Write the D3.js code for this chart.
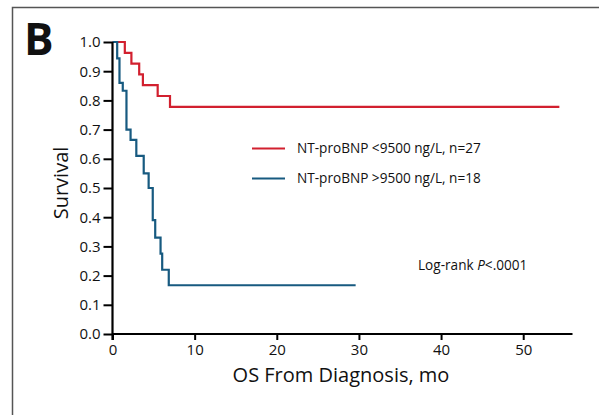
<html>
<head>
<script src="https://cdn.jsdelivr.net/npm/d3@7"></script>
<style>
  body { margin: 0; background: #fff; }
  text { font-family: "Open Sans", sans-serif; fill: #111; }
</style>
</head>
<body>
<svg></svg>
<script>
// KM curves: [months, survival]
var lowSteps = [[0, 1], [1.5, 0.963], [2.3, 0.926], [3.25, 0.889], [3.7, 0.852], [5.5, 0.815], [7.0, 0.778]];
var lowEnd = 54.4;
var highSteps = [[0, 1], [0.57, 0.944], [0.85, 0.86], [1.25, 0.833], [1.7, 0.70], [2.2, 0.665], [2.9, 0.61],
                 [3.8, 0.55], [4.4, 0.50], [4.9, 0.39], [5.2, 0.33], [5.85, 0.275], [6.05, 0.22], [6.85, 0.167]];
var highEnd = 29.6;

var seriesNames = ["NT-proBNP <9500 ng/L, n=27", "NT-proBNP >9500 ng/L, n=18"];
var seriesColors = ["#d2202f", "#175a80"];
var xTicks = [0, 10, 20, 30, 40, 50];
var yTicks = d3.range(0, 11).map(function(d){ return d / 10; });

var W = 599, H = 415;
var svg = d3.select("svg").attr("width", W).attr("height", H);

// frame (top + left only)
svg.append("path").attr("d", "M12.5," + H + "V7.5H" + W)
   .attr("fill", "none").attr("stroke", "#555").attr("stroke-width", 1.5);

svg.append("text").attr("x", 24).attr("y", 55)
   .style("font-size", "44px").style("font-weight", 700).text("B");

var x = d3.scaleLinear().domain([0, 56]).range([112.5, 572.5]);
var y = d3.scaleLinear().domain([0, 1]).range([334, 42]);

// survival curves
function stepLine(steps, end) {
  var pts = steps.concat([[end, steps[steps.length - 1][1]]]);
  return d3.line().x(function(d){ return x(d[0]); }).y(function(d){ return y(d[1]); })
           .curve(d3.curveStepAfter)(pts);
}
var curves = [[lowSteps, lowEnd], [highSteps, highEnd]];
svg.selectAll(".km").data(curves).enter().append("path").attr("class", "km")
   .attr("d", function(d){ return stepLine(d[0], d[1]); })
   .attr("fill", "none")
   .attr("stroke", function(d, i){ return seriesColors[i]; })
   .attr("stroke-width", 2.2);

// axes
var yAxis = svg.append("g").attr("transform", "translate(" + x(0) + ",0)")
  .call(d3.axisLeft(y).tickValues(yTicks).tickFormat(d3.format(".1f")).tickSize(9).tickPadding(3));
var xAxis = svg.append("g").attr("transform", "translate(0," + y(0) + ")")
  .call(d3.axisBottom(x).tickValues(xTicks).tickSize(6).tickPadding(4));
[xAxis, yAxis].forEach(function(g){
  g.select(".domain").attr("stroke", "#000").attr("stroke-width", 2.2);
  g.selectAll(".tick line").attr("stroke", "#000").attr("stroke-width", 2);
  g.selectAll(".tick text").style("font-size", "15px").style("font-family", "'Open Sans', sans-serif").attr("fill", "#111");
});
xAxis.select(".domain").attr("d", "M" + x(0) + ",0H" + x(56));
yAxis.select(".domain").attr("d", "M0," + (y(0) + 6) + "V" + y(1));

// axis titles
svg.append("text").attr("x", 341).attr("y", 382).attr("text-anchor", "middle")
   .style("font-size", "20px").text("OS From Diagnosis, mo");
svg.append("text").attr("transform", "translate(68,183) rotate(-90)").attr("text-anchor", "middle")
   .style("font-size", "20px").text("Survival");

// legend
var leg = svg.selectAll(".leg").data(seriesNames).enter().append("g").attr("class", "leg")
  .attr("transform", function(d, i){ return "translate(252," + (148.5 + i * 30) + ")"; });
leg.append("line").attr("x1", 0).attr("x2", 33)
   .attr("stroke", function(d, i){ return seriesColors[i]; }).attr("stroke-width", 2.2);
leg.append("text").attr("x", 45).attr("dy", "0.35em").style("font-size", "13.6px").text(function(d){ return d; });

var lr = svg.append("text").attr("x", 418).attr("y", 270).style("font-size", "13.6px");
lr.append("tspan").text("Log-rank ");
lr.append("tspan").style("font-style", "italic").text("P");
lr.append("tspan").text("<.0001");
</script>
</body>
</html>
